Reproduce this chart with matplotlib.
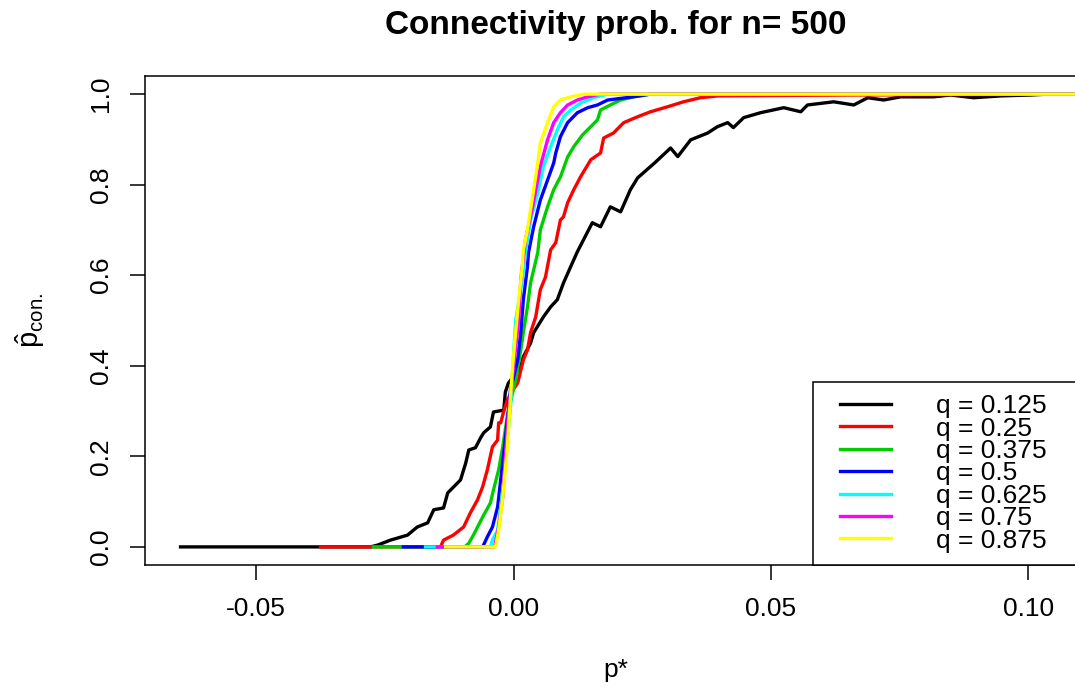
import numpy as np
import matplotlib.pyplot as plt
from matplotlib.lines import Line2D
from matplotlib.legend_handler import HandlerLine2D

plt.rcParams['font.family'] = ['Liberation Sans', 'DejaVu Sans']
plt.rcParams['mathtext.fontset'] = 'custom'
plt.rcParams['mathtext.rm'] = 'Liberation Sans'
plt.rcParams['mathtext.it'] = 'Liberation Sans:italic'

# estimated connectivity probability vs p*, one curve per q
p_q125 = [-0.0647, -0.0278, -0.0264, -0.0239, -0.0206, -0.0187, -0.0167, -0.0155, -0.0136,
          -0.0128, -0.0103, -0.0093, -0.0087, -0.0074, -0.0064, -0.0058, -0.0045, -0.0039,
          -0.0019, -0.0016, -0.0010, 0.0000, 0.0014, 0.0019, 0.0033, 0.0039, 0.0058, 0.0072,
          0.0085, 0.0097, 0.0111, 0.0124, 0.0153, 0.0169, 0.0188, 0.0208, 0.0227, 0.0241,
          0.0276, 0.0305, 0.0319, 0.0344, 0.0377, 0.0396, 0.0416, 0.0427, 0.0447, 0.0480,
          0.0525, 0.0558, 0.0571, 0.0622, 0.0661, 0.0688, 0.0719, 0.0752, 0.0816, 0.0849,
          0.0894, 0.0946, 0.1004, 0.1039]
c_q125 = [0.0, 0.0, 0.004, 0.015, 0.026, 0.044, 0.053, 0.082, 0.086,
          0.119, 0.148, 0.185, 0.214, 0.219, 0.241, 0.252, 0.265, 0.298,
          0.302, 0.342, 0.362, 0.376, 0.398, 0.420, 0.450, 0.473, 0.508, 0.530,
          0.546, 0.583, 0.619, 0.652, 0.716, 0.707, 0.751, 0.740, 0.789, 0.815,
          0.850, 0.881, 0.862, 0.899, 0.914, 0.928, 0.937, 0.926, 0.948, 0.959,
          0.970, 0.961, 0.976, 0.983, 0.976, 0.992, 0.987, 0.994, 0.994, 0.998,
          0.992, 0.996, 0.998, 1.0]

p_q250 = [-0.0375, -0.0142, -0.0136, -0.0117, -0.0097, -0.0084, -0.0070, -0.0060, -0.0051,
          -0.0041, -0.0031, -0.0029, -0.0025, -0.0019, -0.0012, -0.0002, 0.0008, 0.0019,
          0.0027, 0.0033, 0.0043, 0.0052, 0.0062, 0.0072, 0.0082, 0.0091, 0.0097, 0.0105,
          0.0117, 0.0130, 0.0150, 0.0169, 0.0175, 0.0194, 0.0214, 0.0241, 0.0266, 0.0299,
          0.0330, 0.0363, 0.0396, 0.0649, 0.1120]
c_q250 = [0.0, 0.0, 0.015, 0.026, 0.044, 0.075, 0.104, 0.133, 0.170,
          0.221, 0.236, 0.274, 0.274, 0.300, 0.325, 0.345, 0.362, 0.413,
          0.435, 0.473, 0.508, 0.568, 0.596, 0.656, 0.672, 0.722, 0.729, 0.760,
          0.789, 0.817, 0.855, 0.870, 0.903, 0.914, 0.937, 0.950, 0.961, 0.972,
          0.983, 0.992, 0.996, 0.998, 1.0]

p_q375 = [-0.0272, -0.0095, -0.0087, -0.0078, -0.0060, -0.0045, -0.0039, -0.0029, -0.0021,
          -0.0012, 0.0004, 0.0014, 0.0019, 0.0027, 0.0033, 0.0047, 0.0052, 0.0066, 0.0078,
          0.0091, 0.0105, 0.0117, 0.0134, 0.0150, 0.0163, 0.0169, 0.0188, 0.0208, 0.0233,
          0.0266, 0.1120]
c_q375 = [0.0, 0.0, 0.008, 0.026, 0.066, 0.097, 0.126, 0.170, 0.221,
          0.290, 0.369, 0.435, 0.473, 0.530, 0.583, 0.650, 0.700, 0.751, 0.789,
          0.817, 0.861, 0.884, 0.910, 0.928, 0.943, 0.965, 0.976, 0.987, 0.994,
          1.0, 1.0]

p_q500 = [-0.0214, -0.0060, -0.0051, -0.0041, -0.0031, -0.0025, -0.0019, -0.0012, -0.0006,
          0.0008, 0.0014, 0.0019, 0.0027, 0.0029, 0.0039, 0.0052, 0.0066, 0.0078, 0.0082,
          0.0091, 0.0105, 0.0124, 0.0144, 0.0163, 0.0183, 0.0233, 0.0266, 0.1120]
c_q500 = [0.0, 0.0, 0.022, 0.044, 0.088, 0.148, 0.208, 0.281, 0.347,
          0.413, 0.473, 0.546, 0.619, 0.650, 0.707, 0.766, 0.810, 0.848, 0.870,
          0.906, 0.937, 0.959, 0.970, 0.976, 0.987, 0.994, 1.0, 1.0]

p_q625 = [-0.0171, -0.0045, -0.0041, -0.0031, -0.0025, -0.0019, -0.0012, -0.0006, 0.0004,
          0.0017, 0.0023, 0.0033, 0.0047, 0.0058, 0.0072, 0.0085, 0.0097, 0.0111, 0.0130,
          0.0155, 0.0183, 0.1120]
c_q625 = [0.0, 0.0, 0.015, 0.037, 0.088, 0.148, 0.236, 0.309, 0.500,
          0.590, 0.650, 0.722, 0.782, 0.840, 0.884, 0.921, 0.950, 0.965, 0.980,
          0.992, 1.0, 1.0]

p_q750 = [-0.0148, -0.0037, -0.0035, -0.0029, -0.0021, -0.0016, -0.0010, 0.0000, 0.0010,
          0.0014, 0.0023, 0.0037, 0.0052, 0.0066, 0.0078, 0.0091, 0.0105, 0.0124, 0.0144,
          0.0169, 0.1120]
c_q750 = [0.0, 0.0, 0.011, 0.044, 0.110, 0.199, 0.296, 0.398, 0.500,
          0.590, 0.678, 0.751, 0.840, 0.899, 0.937, 0.959, 0.976, 0.987, 0.994,
          1.0, 1.0]

p_q875 = [-0.0132, -0.0035, -0.0029, -0.0021, -0.0012, -0.0006, -0.0002, 0.0004, 0.0010,
          0.0017, 0.0019, 0.0027, 0.0039, 0.0047, 0.0052, 0.0066, 0.0078, 0.0091, 0.0111,
          0.0136, 0.1120]
c_q875 = [0.0, 0.0, 0.037, 0.110, 0.221, 0.330, 0.398, 0.473, 0.546,
          0.619, 0.656, 0.700, 0.789, 0.848, 0.892, 0.937, 0.972, 0.987, 0.994,
          1.0, 1.0]

series = [(p_q125, c_q125, 'black', 'q = 0.125'),
          (p_q250, c_q250, 'red', 'q = 0.25'),
          (p_q375, c_q375, '#00cd00', 'q = 0.375'),
          (p_q500, c_q500, 'blue', 'q = 0.5'),
          (p_q625, c_q625, 'cyan', 'q = 0.625'),
          (p_q750, c_q750, 'magenta', 'q = 0.75'),
          (p_q875, c_q875, 'yellow', 'q = 0.875')]

fig = plt.figure(figsize=(10.75, 6.87), dpi=100)
# the plot region runs a little past the right edge of the picture
ax = fig.add_axes([145/1075, 1 - 565/687, 942/1075, 489/687])

for p, c, col, lab in series:
    ax.plot(p, c, color=col, lw=2.4, label=lab)

ax.set_xlim(-0.0716, 0.1114)
ax.set_ylim(-0.04, 1.04)
ax.set_xticks([-0.05, 0.0, 0.05, 0.10])
ax.set_xticklabels(['-0.05', '0.00', '0.05', '0.10'])
ax.set_yticks([0.0, 0.2, 0.4, 0.6, 0.8, 1.0])
ax.set_yticklabels(['0.0', '0.2', '0.4', '0.6', '0.8', '1.0'], rotation=90, va='center')
ax.tick_params(length=11, width=1.1, labelsize=19, pad=12)
for s in ax.spines.values():
    s.set_linewidth(1.1)

ax.set_title('Connectivity prob. for n= 500', fontsize=24, fontweight='bold', pad=30)
ax.set_xlabel('p*', fontsize=19, labelpad=27)
ax.set_ylabel(r'$\hat{\mathrm{p}}_{\mathrm{con.}}$', fontsize=21, labelpad=30)

# legend box sits in the lower right corner and, like the axes, runs off the picture
leg = ax.legend(loc='lower left', bbox_to_anchor=(668/942, 0.0, 274/942, 0.3),
                mode='expand', fontsize=19,
                numpoints=2, handler_map={Line2D: HandlerLine2D(marker_pad=0.57)},
                frameon=True, fancybox=False, framealpha=1, edgecolor='black',
                handlelength=3.07, handletextpad=1.12, labelspacing=-0.06,
                borderpad=0.47, borderaxespad=0)
leg.get_frame().set_linewidth(1.1)
for h in leg.get_lines():
    h.set_linewidth(2.4)

fig.savefig('out.png', dpi=100)
